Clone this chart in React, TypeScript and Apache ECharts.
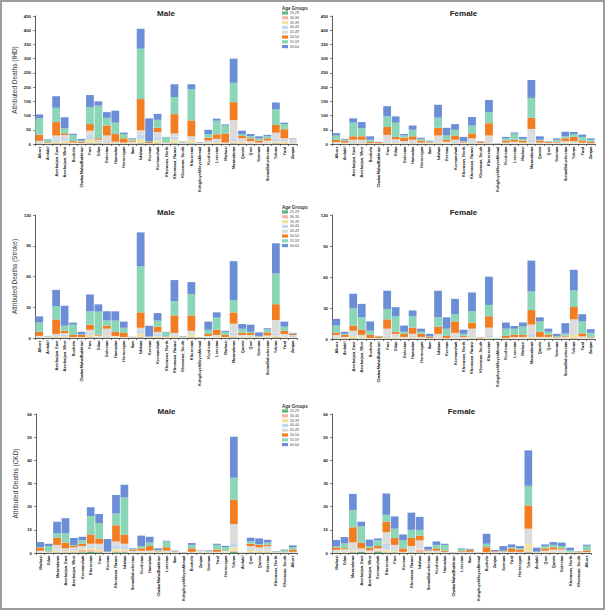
import React, { useEffect, useRef } from "react";
import * as echarts from "echarts";

const ageGroups = ["25-29", "30-34", "35-39", "40-44", "45-49", "50-54", "55-59", "60-64"];
const ageColors = ["#5cb97c", "#f4b6a6", "#f3e3a0", "#c4d7ee", "#dcdcdc", "#f27d22", "#8ad6b7", "#6b8ed6"];

const provincesAlpha = [
  "Alborz", "Ardabil", "Azerbaijan_East", "Azerbaijan_West", "Bushehr", "ChaharMahalBakhtiari",
  "Fars", "Gilan", "Golestan", "Hamadan", "Hormozgan", "Ilam", "Isfahan", "Kerman", "Kermanshah",
  "Khorasan_North", "Khorasan_Razavi", "Khorasan_South", "Khuzestan", "KohgiluyehBoyerAhmad",
  "Kurdistan", "Lorestan", "Markazi", "Mazandaran", "Qazvin", "Qom", "Semnan", "SistanBaluchestan",
  "Tehran", "Yazd", "Zanjan",
];

const provincesCKD = [
  "Markazi", "Gilan", "Mazandaran", "Azerbaijan_East", "Azerbaijan_West", "Kermanshah", "Khuzestan",
  "Fars", "Kerman", "Khorasan_Razavi", "Isfahan", "SistanBaluchestan", "Kurdistan", "Hamadan",
  "ChaharMahalBakhtiari", "Lorestan", "Ilam", "KohgiluyehBoyerAhmad", "Bushehr", "Zanjan", "Semnan",
  "Yazd", "Hormozgan", "Tehran", "Ardabil", "Qom", "Qazvin", "Golestan", "Khorasan_North",
  "Khorasan_South", "Alborz",
];

// each row: one province, values per age group (25-29 ... 60-64)
const ihdMale = [
  [1, 1, 2, 3, 4, 22, 57, 14], [0.5, 0.5, 1, 1, 2, 2, 7, 2], [2, 2, 4, 8, 14, 47, 50, 41],
  [2, 3, 6, 10, 11, 6, 17, 39], [0.5, 0.5, 1, 1, 2, 5, 22, 4], [0.5, 0.5, 1, 1, 1, 4, 4, 6],
  [2, 3, 12, 15, 15, 23, 60, 42], [2, 2, 3, 4, 4, 5, 115, 15], [1, 2, 3, 6, 18, 35, 27, 20],
  [1, 1, 2, 2, 2, 27, 40, 42], [1, 1, 1, 1, 1, 15, 15, 5], [1, 1, 2, 2, 2, 4, 6, 2],
  [2, 3, 12, 15, 16, 110, 177, 70], [0.5, 0.5, 0.5, 0.5, 1, 4, 3, 80], [2, 3, 8, 12, 17, 15, 28, 21],
  [0.5, 0.5, 1, 1, 1, 1, 19, 1], [2, 3, 10, 12, 10, 68, 60, 45], [1, 1, 1, 1, 1, 1, 2, 1],
  [2, 3, 10, 6, 6, 56, 109, 18], [0.5, 0.5, 1, 1, 1, 1, 1, 1], [1, 1, 2, 3, 5, 10, 13, 15],
  [1, 2, 4, 5, 6, 16, 48, 7], [0.5, 0.5, 1, 1, 2, 32, 28, 4], [2, 3, 5, 10, 64, 63, 68, 85],
  [1, 2, 6, 5, 6, 8, 7, 12], [1, 1, 3, 2, 3, 10, 7, 8], [0.5, 0.5, 1, 1, 2, 7, 8, 7],
  [1, 1, 3, 3, 4, 8, 7, 5], [2, 3, 5, 10, 20, 27, 55, 24], [1, 2, 6, 5, 6, 32, 18, 5],
  [1, 1, 3, 8, 4, 1, 1, 1],
];

const ihdFemale = [
  [0.5, 0.5, 1, 2, 3, 8, 15, 8], [0.5, 0.5, 1, 1, 2, 7, 3, 3], [1, 1, 2, 3, 8, 12, 48, 15],
  [1, 1, 2, 3, 8, 12, 28, 22], [0.5, 0.5, 0.5, 0.5, 1, 5, 7, 12], [0.2, 0.3, 0.5, 0.5, 1, 4, 1, 0.5],
  [1, 1, 3, 5, 22, 28, 37, 36], [1, 1, 2, 3, 10, 8, 50, 22], [0.5, 0.5, 1, 3, 5, 12, 8, 5],
  [1, 1, 2, 3, 8, 12, 23, 15], [0.5, 0.5, 1, 1, 2, 7, 6, 4], [0.5, 0.5, 1, 1, 2, 3, 2, 2],
  [1, 1, 3, 5, 20, 27, 36, 45], [0.5, 0.5, 2, 2, 3, 7, 15, 27], [1, 1, 2, 3, 8, 15, 20, 20],
  [0.5, 0.5, 1, 1, 2, 3, 2, 15], [1, 1, 3, 5, 10, 17, 28, 30], [0.5, 0.5, 1, 1, 1, 4, 1, 1],
  [1, 1, 3, 5, 20, 43, 39, 43], [0.2, 0.2, 0.3, 0.3, 0.5, 0.5, 0.5, 0.5], [0.5, 0.5, 1, 1, 2, 7, 8, 5],
  [0.5, 0.5, 2, 2, 3, 7, 21, 4], [0.5, 0.5, 1, 1, 2, 7, 6, 7], [1, 1, 3, 10, 38, 39, 70, 63],
  [0.5, 0.5, 1, 1, 2, 7, 3, 12], [0.5, 0.5, 1, 1, 1, 3, 2, 1], [0.5, 0.5, 1, 1, 2, 3, 7, 5],
  [1, 1, 2, 2, 4, 10, 7, 16], [0.5, 0.5, 2, 3, 4, 15, 10, 7], [0.5, 0.5, 1, 1, 2, 7, 13, 8],
  [0.5, 0.5, 0.5, 0.5, 1, 5, 7, 5],
];

const strokeMale = [
  [0.3, 0.3, 0.5, 0.5, 0.5, 4, 9, 6], [0.2, 0.2, 0.2, 0.2, 0.2, 0.2, 0.3, 0.2], [0.3, 0.5, 1, 1, 1.2, 14, 13, 16],
  [0.3, 0.5, 1, 1.5, 1.7, 2, 5, 19.5], [0.1, 0.1, 0.2, 0.3, 0.3, 2, 10, 2], [0.1, 0.1, 0.2, 0.3, 0.3, 2, 0.5, 2.5],
  [0.5, 0.5, 2, 2.5, 2.5, 5, 13, 16.5], [0.3, 0.3, 0.5, 0.5, 0.7, 1, 22.5, 7], [0.3, 0.3, 0.5, 1, 7, 3, 5, 9],
  [0.2, 0.2, 0.5, 0.5, 0.6, 4, 11, 9], [0.1, 0.1, 0.3, 0.3, 0.2, 4, 5, 6], [0.1, 0.1, 0.1, 0.1, 0.2, 0.2, 0.2, 0.2],
  [0.5, 1, 3, 2.5, 3, 15, 45, 33], [0.1, 0.1, 0.2, 0.2, 0.2, 0.2, 0.5, 10.5], [0.3, 0.5, 1, 2, 2.2, 5, 6, 7.3],
  [0.1, 0.1, 0.2, 0.2, 0.4, 0.5, 4, 0.5], [0.3, 0.5, 1.5, 1.5, 1.2, 17, 14, 20.5], [0.2, 0.2, 0.2, 0.2, 0.2, 0.3, 0.5, 0.2],
  [0.5, 0.5, 3, 1.5, 1.5, 15, 21, 11.5], [0.1, 0.1, 0.1, 0.1, 0.1, 0.2, 0.2, 0.1], [0.1, 0.2, 0.5, 0.5, 0.7, 2, 4, 8],
  [0.2, 0.3, 0.8, 0.8, 0.9, 5, 12, 5], [0.1, 0.1, 0.3, 0.2, 0.3, 2, 3, 1], [0.5, 0.5, 1.5, 2.5, 9, 11, 12, 38],
  [0.2, 0.3, 1, 0.5, 1, 2, 4, 4.6], [0.2, 0.3, 0.8, 0.7, 1, 2, 1, 7], [0.1, 0.1, 0.2, 0.2, 0.4, 0.5, 0.5, 3.5],
  [0.3, 0.3, 0.5, 0.5, 0.9, 3, 3, 1], [0.5, 0.5, 1.5, 1.5, 13.5, 15.5, 30, 29.4], [0.2, 0.3, 1, 1, 1.5, 3, 4, 5],
  [0.2, 0.2, 0.5, 1, 1, 1, 0.6, 0.5],
];

const strokeFemale = [
  [0.3, 0.3, 1, 1, 1.4, 2, 7, 6.5], [0.2, 0.2, 0.5, 0.5, 0.6, 2, 1, 2], [0.5, 0.5, 2, 1, 4, 5, 17, 13.8],
  [0.3, 0.3, 1, 1, 1.4, 5, 12, 13], [0.1, 0.1, 0.2, 0.3, 0.3, 3, 4, 9], [0.1, 0.1, 0.2, 0.2, 0.4, 1.5, 0.3, 0.2],
  [0.3, 0.5, 1, 1.5, 6.7, 9, 10, 17.7], [0.3, 0.3, 1, 1, 2.4, 2, 15, 8.8], [0.2, 0.3, 0.5, 0.5, 0.5, 3, 2, 6],
  [0.3, 0.5, 1, 1.2, 2, 6, 11, 5.6], [0.2, 0.2, 0.3, 0.5, 0.8, 3, 2, 3], [0.1, 0.1, 0.2, 0.2, 0.4, 1, 0.5, 2.5],
  [0.2, 0.3, 1, 1, 2.5, 7, 9, 25.7], [0.1, 0.1, 0.3, 0.2, 0.3, 2, 7, 11], [0.3, 0.3, 1, 1.4, 3, 11, 7, 14.9],
  [0.1, 0.1, 0.3, 0.5, 1, 1, 2, 4], [0.3, 0.5, 1, 1.2, 7, 6, 11, 18], [0.1, 0.1, 0.1, 0.1, 0.2, 0.7, 0.1, 0.1],
  [0.3, 0.3, 1, 1.4, 8, 11, 11, 27.3], [0.1, 0.1, 0.1, 0.2, 0.2, 0.1, 0.2, 0.1], [0.1, 0.1, 0.3, 0.2, 0.3, 2, 7, 6],
  [0.1, 0.2, 0.5, 0.5, 0.7, 2, 6, 2.5], [0.1, 0.2, 0.5, 0.5, 0.7, 2, 8, 4], [0.3, 0.5, 1.2, 3, 9, 14, 18, 29.9],
  [0.2, 0.3, 0.5, 0.5, 0.5, 5, 10, 4], [0.2, 0.2, 0.5, 0.5, 0.6, 2, 3, 3], [0.1, 0.1, 0.3, 0.3, 0.7, 0.5, 1, 2],
  [0.2, 0.2, 0.5, 0.6, 0.8, 1, 2, 10], [0.5, 0.5, 3.5, 1.5, 13, 12, 16, 20], [0.2, 0.3, 0.7, 0.5, 0.8, 3, 11.5, 7],
  [0.2, 0.2, 0.5, 0.3, 0.3, 0.5, 4, 3.5],
];

const ckdMale = [
  [0.1, 0.1, 0.2, 0.3, 0.3, 1.3, 0.2, 2.2], [0.1, 0.1, 0.1, 0.1, 0.1, 0.2, 2.3, 1], [0.2, 0.3, 0.5, 0.5, 2, 3, 2, 5],
  [0.2, 0.2, 0.5, 0.4, 0.7, 2.5, 4, 6.5], [0.2, 0.3, 0.7, 0.6, 0.7, 0.5, 0.5, 3], [0.3, 1.2, 0.5, 0.5, 0.5, 1, 1.5, 1.5],
  [0.5, 0.8, 1, 1, 0.7, 4, 8, 3.7], [0.3, 0.5, 1, 1, 1.2, 2, 7, 3.8], [0.05, 0.05, 0.1, 0.1, 0.1, 0.1, 0.1, 5.4],
  [0.3, 0.5, 1, 1.5, 1.7, 7, 5, 8], [0.3, 0.5, 0.7, 1.5, 1, 4, 16, 5.5], [0.1, 0.1, 0.2, 0.2, 0.3, 0.5, 0.3, 0.3],
  [0.1, 0.2, 0.3, 0.2, 0.2, 1, 1, 4.5], [0.1, 0.1, 0.3, 0.2, 0.3, 2, 1.5, 2.5], [0.1, 0.1, 0.1, 0.2, 0.2, 0.3, 0.3, 0.7],
  [0.1, 0.1, 0.3, 0.3, 0.2, 1.5, 2.5, 0.3], [0.1, 0.1, 0.1, 0.1, 0.1, 0.2, 0.1, 0.2], [0.05, 0.05, 0.05, 0.05, 0.05, 0.05, 0.05, 0.05],
  [0.1, 0.1, 0.1, 0.1, 0.1, 1.5, 1.5, 0.8], [0.1, 0.1, 0.2, 0.3, 0.4, 0.1, 0.05, 0.05], [0.1, 0.1, 0.1, 0.1, 0.2, 0.1, 0.1, 0.3],
  [0.1, 0.1, 0.1, 0.1, 0.1, 1, 2, 0.5], [0.1, 0.1, 0.2, 0.2, 0.3, 0.2, 1.5, 0.5], [0.6, 0.4, 1.5, 2, 8, 10.5, 9.5, 17.7],
  [0.02, 0.02, 0.03, 0.03, 0.03, 0.03, 0.03, 0.03], [0.2, 0.3, 0.8, 0.7, 1, 1, 1, 1.6], [0.2, 0.3, 0.5, 0.5, 1, 1, 0.3, 2.5],
  [0.2, 0.3, 0.5, 0.5, 1.5, 0.5, 1, 1.2], [0.05, 0.05, 0.1, 0.1, 0.1, 0.1, 0.2, 0.1], [0.05, 0.05, 0.1, 0.1, 0.1, 0.2, 0.6, 0.3],
  [0.1, 0.1, 0.1, 0.1, 0.1, 1, 1, 0.8],
];

const ckdFemale = [
  [0.1, 0.2, 0.3, 0.3, 0.5, 1, 0.5, 2.7], [0.1, 0.2, 0.3, 0.3, 0.7, 0.5, 2, 2.8], [0.3, 0.3, 0.5, 0.5, 3, 6.5, 7.5, 6.9],
  [0.5, 0.2, 0.2, 0.3, 0.8, 2.5, 7, 2], [0.1, 0.2, 0.3, 0.2, 0.3, 1, 0.9, 2.8], [0.6, 0.3, 0.3, 0.3, 0.5, 1, 2.5, 0.8],
  [0.2, 0.3, 1, 2.5, 5, 4.5, 3, 9.2], [0.2, 0.3, 0.5, 0.5, 2, 3, 4, 5.3], [0.1, 0.1, 0.1, 0.1, 0.1, 1.5, 3.5, 2.5],
  [0.2, 0.2, 0.3, 0.5, 1.8, 3.5, 3.5, 7.4], [0.2, 1.3, 0.5, 0.5, 3, 2, 2.5, 5.6], [0.1, 0.1, 0.2, 0.2, 0.3, 0.3, 0.3, 1.2],
  [0.1, 0.1, 0.3, 0.3, 0.2, 1, 1.5, 1.5], [0.1, 0.1, 0.1, 0.1, 0.1, 0.5, 2.5, 0.5], [0.03, 0.03, 0.03, 0.03, 0.04, 0.04, 0.05, 0.05],
  [0.1, 0.1, 0.1, 0.1, 0.2, 0.3, 1, 0.2], [0.1, 0.1, 0.1, 0.1, 0.1, 0.8, 0.2, 0.3], [0.03, 0.03, 0.03, 0.03, 0.04, 0.04, 0.05, 0.05],
  [0.05, 0.05, 0.05, 0.05, 0.1, 2.2, 1.5, 4.3], [0.05, 0.05, 0.1, 0.1, 0.1, 0.3, 0.1, 0.5], [0.05, 0.05, 0.1, 0.1, 0.2, 0.2, 0.3, 2],
  [0.1, 0.1, 0.1, 0.1, 0.1, 1.5, 0.5, 1.2], [0.1, 0.1, 0.1, 0.1, 0.1, 1, 0.5, 1], [0.3, 0.3, 3.5, 1, 5.4, 10, 8.5, 15.3],
  [0.05, 0.05, 0.1, 0.1, 0.1, 0.1, 0.1, 1.7], [0.1, 0.1, 0.2, 0.2, 0.4, 1, 1, 0.7], [0.1, 0.2, 0.4, 0.3, 0.5, 1, 1, 1.2],
  [0.1, 0.2, 0.3, 0.3, 0.6, 0.5, 1, 1.5], [0.05, 0.05, 0.1, 0.1, 0.1, 0.1, 0.7, 1.1], [0.05, 0.05, 0.05, 0.05, 0.1, 0.3, 0.1, 0.1],
  [0.05, 0.05, 0.1, 0.1, 0.1, 0.7, 2, 0.5],
];

const yTicksIHD = { max: 450, interval: 50 };
const yTicksStroke = { max: 120, interval: 30 };
const yTicksCKD = { max: 60, interval: 10 };

const FONT = "Liberation Sans, Arial, sans-serif";

type Panel = {
  rows: number[][];
  cats: string[];
  ticks: { max: number; interval: number };
  grid: { left: number; top: number; width: number; height: number };
  title: string;
  yName: string;
};

const panels: Panel[] = [
  { rows: ihdMale, cats: provincesAlpha, ticks: yTicksIHD, grid: { left: 35, top: 16, width: 262, height: 128 }, title: "Male", yName: "Attributed Deaths (IHD)" },
  { rows: ihdFemale, cats: provincesAlpha, ticks: yTicksIHD, grid: { left: 332, top: 16, width: 263, height: 128 }, title: "Female", yName: "" },
  { rows: strokeMale, cats: provincesAlpha, ticks: yTicksStroke, grid: { left: 35, top: 215, width: 262, height: 123 }, title: "Male", yName: "Attributed Deaths (Stroke)" },
  { rows: strokeFemale, cats: provincesAlpha, ticks: yTicksStroke, grid: { left: 332, top: 215, width: 263, height: 124 }, title: "Female", yName: "" },
  { rows: ckdMale, cats: provincesCKD, ticks: yTicksCKD, grid: { left: 36, top: 414, width: 261, height: 139 }, title: "Male", yName: "Attributed Deaths (CKD)" },
  { rows: ckdFemale, cats: provincesCKD, ticks: yTicksCKD, grid: { left: 332, top: 414, width: 259, height: 139 }, title: "Female", yName: "" },
];

const legendTops = [11, 210, 409];

export default function App() {
  const ref = useRef<HTMLDivElement>(null);
  useEffect(() => {
    if (!ref.current) return;
    const chart = echarts.init(ref.current, undefined, { renderer: "svg" });
    const axisLine = { show: true, lineStyle: { color: "#333", width: 0.8 } };
    const grids = panels.map((p) => ({ ...p.grid }));
    const xAxes = panels.map((p, i) => ({
      type: "category",
      gridIndex: i,
      data: p.cats,
      axisLine,
      axisTick: { show: true, length: 2, lineStyle: { color: "#333", width: 0.6 } },
      axisLabel: { interval: 0, rotate: 90, fontSize: 3.9, color: "#222", margin: 2.5, fontFamily: FONT, fontWeight: "bold" },
    }));
    const yAxes = panels.map((p, i) => ({
      type: "value",
      gridIndex: i,
      min: 0,
      max: p.ticks.max,
      interval: p.ticks.interval,
      splitLine: { show: false },
      axisLine,
      axisTick: { show: true, length: 2, lineStyle: { color: "#333", width: 0.6 } },
      axisLabel: { fontSize: 4.3, color: "#222", margin: 4, fontFamily: FONT, fontWeight: "bold" },
      name: p.yName,
      nameLocation: "middle",
      nameRotate: 90,
      nameGap: 17,
      nameTextStyle: { fontSize: 6.5, color: "#333", fontFamily: FONT },
    }));
    const series: any[] = [];
    panels.forEach((p, i) => {
      ageGroups.forEach((g, k) => {
        series.push({
          type: "bar",
          name: g,
          stack: "s" + i,
          xAxisIndex: i,
          yAxisIndex: i,
          barCategoryGap: "8%",
          itemStyle: { color: ageColors[k] },
          data: p.rows.map((r) => r[k]),
        });
      });
    });
    const legends = legendTops.map((t) => ({
      orient: "vertical",
      left: 282,
      top: t,
      padding: 0,
      itemWidth: 6,
      itemHeight: 3.2,
      itemGap: 0.8,
      icon: "rect",
      textStyle: { fontSize: 3.5, color: "#444", fontFamily: FONT, padding: [0, 0, 0, -3] },
      data: ageGroups,
    }));
    const graphics: any[] = [];
    panels.forEach((p) => {
      graphics.push({
        type: "text",
        x: p.grid.left + p.grid.width / 2,
        y: p.grid.top - 3,
        style: { text: p.title, font: `bold 8px ${FONT}`, fill: "#222", align: "center", verticalAlign: "middle" },
      });
    });
    legendTops.forEach((t) => {
      graphics.push({
        type: "text",
        x: 282,
        y: t - 3,
        style: { text: "Age Groups", font: `bold 4.5px ${FONT}`, fill: "#333", align: "left", verticalAlign: "middle" },
      });
    });
    graphics.push({
      type: "rect",
      shape: { x: 1, y: 1, width: 603, height: 608 },
      style: { fill: "none", stroke: "#9d9d9d", lineWidth: 2 },
      z: 100,
    });
    chart.setOption({
      animation: false,
      backgroundColor: "#fff",
      textStyle: { fontFamily: FONT },
      grid: grids,
      xAxis: xAxes,
      yAxis: yAxes,
      legend: legends,
      series,
      graphic: graphics,
    });
    return () => chart.dispose();
  }, []);
  return <div ref={ref} style={{ position: "absolute", left: 0, top: 0, width: 605, height: 610 }} />;
}
